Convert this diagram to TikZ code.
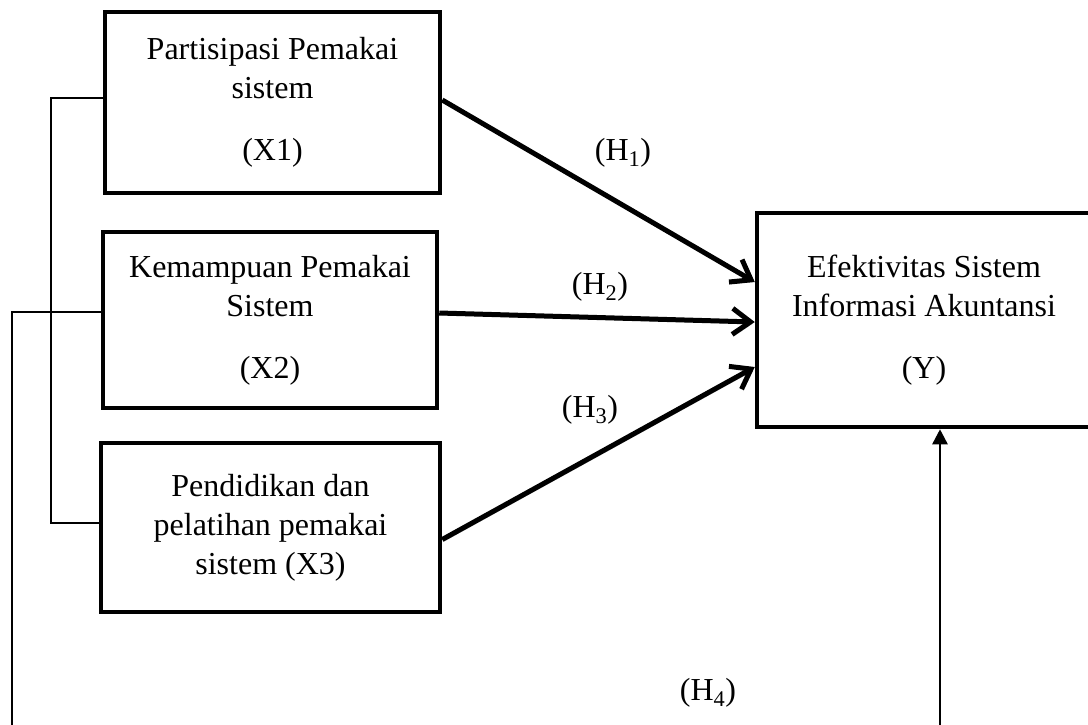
\documentclass[tikz,border=0pt]{standalone}
\usepackage{fontspec}
\setmainfont{Liberation Serif}
\usetikzlibrary{arrows.meta,positioning}

\begin{document}
\begin{tikzpicture}[
    x=1pt, y=-1pt,
    var/.style={draw, line width=4.5pt, align=center, inner sep=0pt, font=\fontsize{32}{39}\selectfont},
    hyp/.style={font=\fontsize{32}{39}\selectfont},
    effect/.style={line width=5pt, -{Straight Barb[length=18pt,width=26pt]},
        preaction={draw=gray!55, transform canvas={shift={(1.5pt,-2pt)}}}},
    link/.style={line width=2.5pt},
    moder/.style={line width=2.5pt, -{Triangle[length=15pt,width=15pt]}}
]
\useasboundingbox (0,0) rectangle (1088,724);
\clip (0,0) rectangle (1088,724);

% Independent variables
\node[var, minimum width=335pt, minimum height=181pt] (X1) at (272.5,102.5) {Partisipasi Pemakai\\sistem\\[23pt](X1)};
\node[var, minimum width=334pt, minimum height=176pt] (X2) at (270,320) {Kemampuan Pemakai\\Sistem\\[23pt](X2)};
\node[var, minimum width=339pt, minimum height=169pt] (X3) at (270.5,527.5) {Pendidikan dan\\pelatihan pemakai\\sistem (X3)};

% Dependent variable
\node[var, minimum width=334pt, minimum height=214pt] (Y) at (924,320) {Efektivitas Sistem\\Informasi Akuntansi\\[23pt](Y)};

% Hypotheses
\node[hyp] (h1) at (623,153) {(H\textsubscript{1})};
\node[hyp] (h2) at (600,287) {(H\textsubscript{2})};
\node[hyp] (h3) at (590,410) {(H\textsubscript{3})};
\node[hyp] (h4) at (708,693) {(H\textsubscript{4})};

% Partial effects
\draw[effect] ([yshift=2.5pt]X1.east) -- ([yshift=38pt]Y.west);
\draw[effect] ([yshift=7pt]X2.east) -- ([yshift=-2pt]Y.west);
\draw[effect] ([yshift=-12pt]X3.east) -- ([yshift=-47pt]Y.west);

% Simultaneous effect
\coordinate (bl) at (12,760);
\draw[link] ([yshift=4.5pt]X1.west) -- ++(-52,0) |- ([yshift=4.5pt]X3.west);
\draw[moder] ([yshift=8pt]X2.west) -| (bl) -| ([xshift=16pt]Y.south);

\end{tikzpicture}
\end{document}
